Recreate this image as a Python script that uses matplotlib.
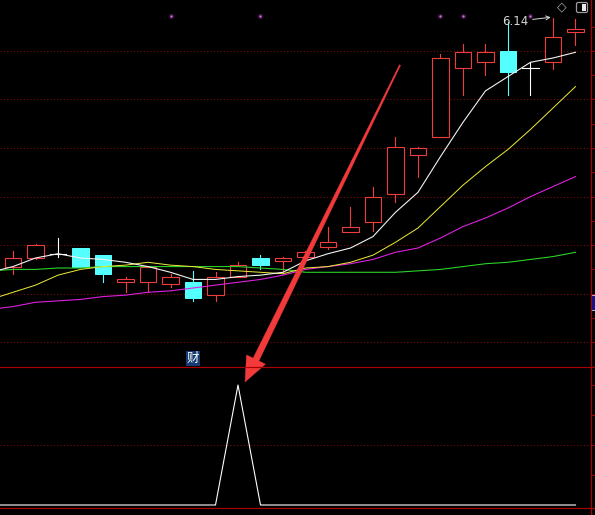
import numpy as np
import matplotlib
matplotlib.use("Agg")
import matplotlib.pyplot as plt
from matplotlib.patches import Rectangle, Polygon, FancyBboxPatch
from matplotlib.lines import Line2D
import matplotlib.transforms as mtransforms

# ---------------- data ----------------
days = np.arange(1, 27)
opens = [4.40, 4.46, 4.49, 4.53, 4.48, 4.29, 4.29, 4.28, 4.29, 4.20, 4.33, 4.46, 4.44,
         4.47, 4.54, 4.64, 4.71, 4.91, 5.18, 5.31, 5.79, 5.83, 5.91, 5.79, 5.83, 6.04]
highs = [4.51, 4.56, 4.60, 4.53, 4.48, 4.33, 4.40, 4.35, 4.37, 4.36, 4.43, 4.48, 4.47,
         4.51, 4.68, 4.82, 4.96, 5.31, 5.24, 5.89, 5.96, 5.96, 6.11, 5.83, 6.14, 6.13]
lows = [4.35, 4.45, 4.47, 4.40, 4.29, 4.22, 4.22, 4.26, 4.16, 4.16, 4.33, 4.38, 4.36,
        4.47, 4.52, 4.64, 4.65, 4.85, 5.03, 5.31, 5.60, 5.74, 5.60, 5.60, 5.78, 5.95]
closes = [4.46, 4.55, 4.49, 4.40, 4.35, 4.31, 4.40, 4.33, 4.18, 4.33, 4.41, 4.41, 4.46,
          4.50, 4.57, 4.68, 4.89, 5.24, 5.23, 5.86, 5.90, 5.90, 5.76, 5.79, 6.01, 6.06]

ma_days = np.arange(0, 27)
ma5 = [4.36, 4.40, 4.46, 4.49, 4.46, 4.45, 4.43, 4.40, 4.36, 4.31, 4.31, 4.33, 4.34, 4.36,
       4.44, 4.49, 4.53, 4.61, 4.78, 4.92, 5.17, 5.41, 5.63, 5.73, 5.83, 5.86, 5.90]
ma10 = [4.17, 4.22, 4.27, 4.34, 4.38, 4.40, 4.41, 4.43, 4.41, 4.40, 4.38, 4.37, 4.36, 4.35,
        4.39, 4.40, 4.43, 4.48, 4.57, 4.67, 4.82, 4.97, 5.10, 5.22, 5.36, 5.51, 5.66]
ma20 = [4.10, 4.12, 4.15, 4.16, 4.17, 4.19, 4.20, 4.22, 4.23, 4.25, 4.27, 4.29, 4.31, 4.34,
        4.38, 4.40, 4.42, 4.45, 4.50, 4.53, 4.60, 4.68, 4.74, 4.81, 4.89, 4.96, 5.03]
ma60 = [4.37, 4.38, 4.38, 4.39, 4.39, 4.40, 4.40, 4.40, 4.40, 4.40, 4.40, 4.40, 4.39, 4.38,
        4.36, 4.36, 4.36, 4.36, 4.36, 4.37, 4.38, 4.40, 4.42, 4.43, 4.45, 4.47, 4.50]

signal_days = np.arange(0, 27)
signal = [0, 0, 0, 0, 0, 0, 0, 0, 0, 0, 0, 1, 0, 0, 0, 0, 0, 0, 0, 0, 0, 0, 0, 0, 0, 0, 0]

mark_days = [8, 12, 20, 21, 24]
grid_levels = [5.91, 5.57, 5.23, 4.89, 4.55, 4.21, 3.87]
signal_ticks = [0.25, 0.5, 0.75, 1.0]
peak_label = "6.14"
panel_label = "财"

# ---------------- style ----------------
W, H, DPI = 595, 515, 100
RED_UP = "#f03c3c"
CYAN_DN = "#54ffff"
FRAME = "#a80000"
GRID = "#7a0c0c"
PX = 72.0 / DPI  # one pixel in points

fig = plt.figure(figsize=(W / DPI, H / DPI), dpi=DPI, facecolor="black")


def fx(x):
    return x / W


def fy(y):
    return 1 - y / H


ax = fig.add_axes([0, fy(366), fx(590.5), 366 / H], facecolor="black")
low = fig.add_axes([0, fy(507), fx(590.5), 141 / H], facecolor="black")

xlim = (0.4222, 26.6667)
for a in (ax, low):
    a.set_xlim(*xlim)
    for s in a.spines.values():
        s.set_visible(False)
    a.set_xticks([])
    a.yaxis.tick_right()
    a.tick_params(axis="y", which="both", direction="out", length=4 * PX,
                  width=PX, color=FRAME, labelright=False, labelleft=False)

ax.set_ylim(3.704, 6.266)
low.set_ylim(-2 / 120, 1 + 19 / 120)

# grid
for g in grid_levels:
    ax.axhline(g, color=GRID, lw=0.8, ls=(0, (1, 2)), zorder=1)
ax.set_yticks(grid_levels)
mids = [(a + b) / 2 for a, b in zip(grid_levels[:-1], grid_levels[1:])]
mids.append(grid_levels[0] + (grid_levels[0] - grid_levels[1]) / 2)
ax.set_yticks(mids, minor=True)

low.axhline(0.5, color=GRID, lw=0.8, ls=(0, (1, 2)), zorder=1)
low.set_yticks(signal_ticks)

# candles
bw = 0.74
for d, o, h, l, c in zip(days, opens, highs, lows, closes):
    if c > o:
        ax.add_patch(Rectangle((d - bw / 2, o), bw, c - o, facecolor="black",
                               edgecolor=RED_UP, lw=1.1 * PX * 1.0, zorder=2))
        if h > c:
            ax.plot([d, d], [c, h], color=RED_UP, lw=PX * 1.1, zorder=2)
        if l < o:
            ax.plot([d, d], [l, o], color=RED_UP, lw=PX * 1.1, zorder=2)
    elif c < o:
        ax.plot([d, d], [l, h], color=CYAN_DN, lw=PX * 1.1, zorder=2)
        ax.add_patch(Rectangle((d - bw / 2, c), bw, o - c, facecolor=CYAN_DN,
                               edgecolor=CYAN_DN, lw=PX, zorder=2))
    else:
        ax.plot([d, d], [l, h], color="white", lw=PX * 1.1, zorder=2)
        ax.plot([d - bw / 2, d + bw / 2], [o, o], color="white", lw=PX * 1.1, zorder=2)

# moving averages
ax.plot(ma_days, ma60, color="#2ad42a", lw=1.1 * PX * 1.0, zorder=3)
ax.plot(ma_days, ma20, color="#e020e0", lw=1.1 * PX * 1.0, zorder=3)
ax.plot(ma_days, ma10, color="#e8e838", lw=1.0 * PX, zorder=3)
ax.plot(ma_days, ma5, color="#f4f4f4", lw=1.1 * PX, zorder=3)

# signal markers along the top
top_tr = mtransforms.blended_transform_factory(ax.transData, ax.transAxes)
ax.scatter(mark_days, [1 - 16 / 366] * len(mark_days), s=18, color="#2a0a30",
           transform=top_tr, zorder=4, linewidths=0)
ax.scatter(mark_days, [1 - 16 / 366] * len(mark_days), s=3, color="#c878c8",
           transform=top_tr, zorder=5, linewidths=0)

# highest price label
i_max = int(np.argmax(highs))
ax.annotate(peak_label, xy=(days[i_max] - 0.1, highs[i_max] + 0.005),
            xytext=(-16, -3), textcoords="offset points",
            ha="right", va="center", fontsize=8.5, color="#d8d8d8",
            arrowprops=dict(arrowstyle="->", color="#d8d8d8", lw=0.7,
                            shrinkA=1, shrinkB=0, mutation_scale=7),
            zorder=6)

# lower indicator
low.plot(signal_days, signal, color="white", lw=1.1 * PX, zorder=3)

# frame lines
fig.add_artist(Line2D([fx(590.5), fx(590.5)], [0, 1], color=FRAME, lw=1.2 * PX))
fig.add_artist(Line2D([0, 1], [fy(366.5), fy(366.5)], color=FRAME, lw=1.2 * PX))
fig.add_artist(Line2D([0, 1], [fy(507.5), fy(507.5)], color=FRAME, lw=1.2 * PX))

# current-price box at the right edge
fig.add_artist(Rectangle((fx(591), fy(310)), fx(8), 15 / H, facecolor="#14148a",
                         edgecolor="#d0d0ff", lw=0.6, transform=fig.transFigure))

# panel label
fig.text(fx(193), fy(358), panel_label, ha="center", va="center", fontsize=9,
         color="white", family=["Noto Sans CJK SC", "DejaVu Sans"],
         bbox=dict(boxstyle="square,pad=0.08", fc="#143c70", ec="none"))

# toolbar icons
fig.text(fx(562), fy(7), "◇", ha="center", va="center", fontsize=9,
         color="#a8a8a8", family=["DejaVu Sans"])
fig.add_artist(FancyBboxPatch((fx(576.5), fy(12.5)), fx(11), 10 / H,
                              boxstyle="round,pad=0,rounding_size=0.003",
                              facecolor="none", edgecolor="#9a9a9a", lw=0.9,
                              transform=fig.transFigure))
fig.add_artist(Rectangle((fx(582), fy(10.5)), fx(3.5), 7 / H, facecolor="#e8e8e8",
                         edgecolor="none", transform=fig.transFigure))

# red pointer arrow
S = np.array([400.0, 65.0])
T = np.array([245.0, 382.0])
v = T - S
L = np.hypot(*v)
u = v / L
n = np.array([u[1], -u[0]])
head_len, head_half = 25.0, 10.5
B = S + u * (L - head_len)
pts_px = [S + n * 0.6, B + n * 3.2, B + n * head_half, T,
          B - n * head_half, B - n * 3.2, S - n * 0.6]
pts = [(fx(p[0]), fy(p[1])) for p in pts_px]
fig.add_artist(Polygon(pts, closed=True, facecolor="#f23a3a", edgecolor="#f23a3a",
                       lw=0.3, transform=fig.transFigure))

fig.savefig("out.png", dpi=DPI, facecolor="black")
